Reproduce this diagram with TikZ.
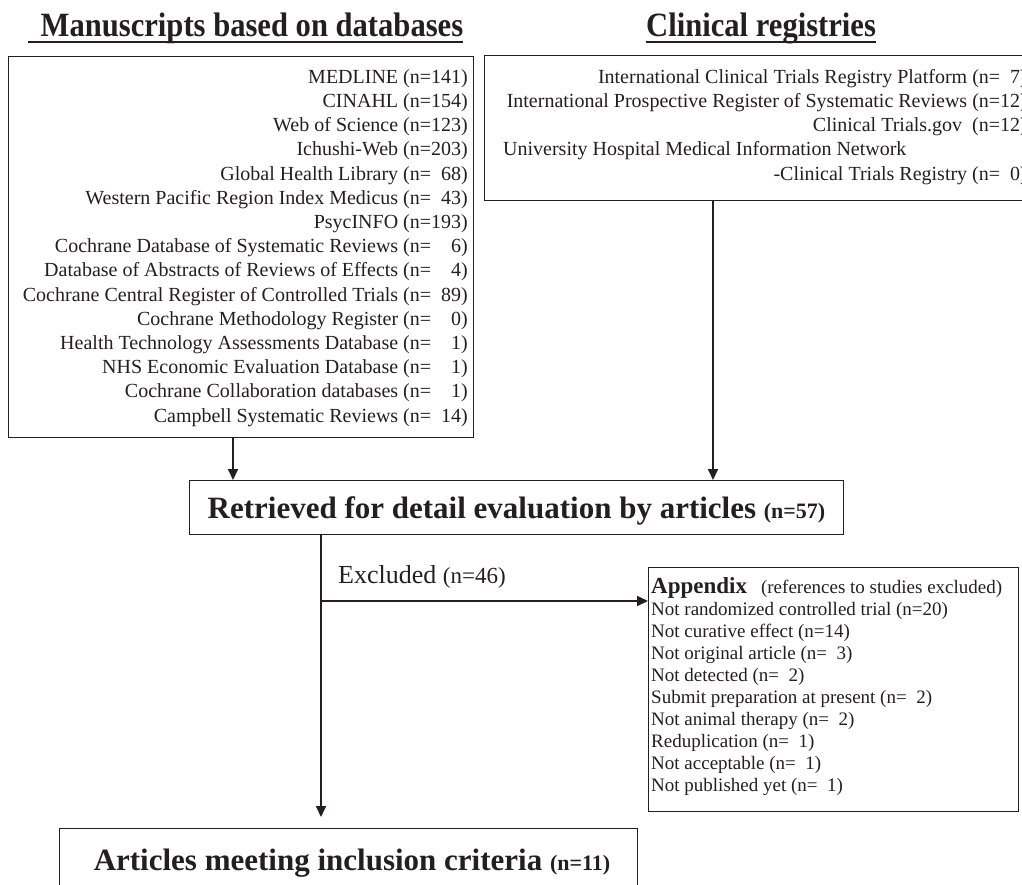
\documentclass[tikz,border=0pt]{standalone}
\usepackage{fontspec}
\setmainfont{Liberation Serif}
\usetikzlibrary{arrows.meta}
\definecolor{ink}{RGB}{35,31,32}
\begin{document}
\begin{tikzpicture}[x=1pt,y=-1pt,
  every node/.style={text=ink, inner sep=0pt},
  box/.style={draw=ink, line width=1.4pt, anchor=north west},
  arr/.style={draw=ink, line width=1.8pt, -{Triangle[length=11pt,width=10pt]}},
  head/.style={font=\fontsize{34pt}{34pt}\selectfont\bfseries},
  lst/.style={font=\fontsize{20pt}{24pt}\selectfont},
  apx/.style={font=\fontsize{19pt}{22pt}\selectfont, anchor=base west},
  big/.style={font=\fontsize{31pt}{31pt}\selectfont\bfseries, anchor=base},
  uline/.style={draw=ink, line width=2pt}]
\useasboundingbox (0,0) rectangle (1022,884);
\clip (0,0) rectangle (1022,884);

% headers
\node[head, anchor=base west] (h1) at (40.5,36) {\scalebox{0.9}[1]{Manuscripts based on databases}};
\node[head, anchor=base west] (h2) at (646,36) {\scalebox{0.9}[1]{Clinical registries}};
\draw[uline] ([xshift=-12.5pt,yshift=-5.5pt]h1.base west) -- ([yshift=-5.5pt]h1.base east);
\draw[uline] ([yshift=-5.5pt]h2.base west) -- ([yshift=-5.5pt]h2.base east);

% boxes
\node[box, minimum width=465pt, minimum height=381pt] (db) at (8,56) {};
\node[box, minimum width=550pt, minimum height=145pt] (reg) at (484,55) {};
\node[box, minimum width=654pt, minimum height=54pt] (ret) at (189,480) {};
\node[box, minimum width=370pt, minimum height=244pt] (app) at (648,567) {};
\node[box, minimum width=578pt, minimum height=80pt] (inc) at (59,828) {};

% database list
\foreach \t [count=\i from 0] in {
  {MEDLINE (n=141)},
  {CINAHL (n=154)},
  {Web of Science (n=123)},
  {Ichushi-Web (n=203)},
  {Global Health Library (n=\hphantom{0}68)},
  {Western Pacific Region Index Medicus (n=\hphantom{0}43)},
  {PsycINFO (n=193)},
  {Cochrane Database of Systematic Reviews (n=\hphantom{00}6)},
  {Database of Abstracts of Reviews of Effects (n=\hphantom{00}4)},
  {Cochrane Central Register of Controlled Trials (n=\hphantom{0}89)},
  {Cochrane Methodology Register (n=\hphantom{00}0)},
  {Health Technology Assessments Database (n=\hphantom{00}1)},
  {NHS Economic Evaluation Database (n=\hphantom{00}1)},
  {Cochrane Collaboration databases (n=\hphantom{00}1)},
  {Campbell Systematic Reviews (n=\hphantom{0}14)}}
  \node[lst, anchor=base east] (d\i) at (468, 83.3+24.2*\i) {\t};

% registry list
\node[lst, anchor=base east] (r0) at (1027,83.3) {International Clinical Trials Registry Platform (n=\hphantom{0}7)};
\node[lst, anchor=base east] (r1) at (1027,107.5) {International Prospective Register of Systematic Reviews (n=12)};
\node[lst, anchor=base east] (r2) at (1027,131.7) {Clinical Trials.gov\ \ (n=12)};
\node[lst, anchor=base west] (r3) at (503,155.9) {University Hospital Medical Information Network};
\node[lst, anchor=base east] (r4) at (1027,180.1) {-Clinical Trials Registry (n=\hphantom{0}0)};

% retrieved
\node[big] (rt) at (516.5,518) {Retrieved for detail evaluation by articles {\fontsize{22pt}{22pt}\selectfont(n=57)}};

% excluded label
\node[anchor=base west, font=\fontsize{26pt}{26pt}\selectfont] (ex) at (338,583) {Excluded {\fontsize{23pt}{23pt}\selectfont(n=46)}};

% appendix
\node[apx] (ap0) at (651,593) {{\fontsize{23pt}{23pt}\selectfont\bfseries Appendix}\hspace{14pt}(references to studies excluded)};
\foreach \t [count=\i from 1] in {
  {Not randomized controlled trial (n=20)},
  {Not curative effect (n=14)},
  {Not original article (n=\hphantom{0}3)},
  {Not detected (n=\hphantom{0}2)},
  {Submit preparation at present (n=\hphantom{0}2)},
  {Not animal therapy (n=\hphantom{0}2)},
  {Reduplication (n=\hphantom{0}1)},
  {Not acceptable (n=\hphantom{0}1)},
  {Not published yet (n=\hphantom{0}1)}}
  \node[apx] (ap\i) at (651, 593+22.1*\i) {\t};

% included
\node[big] (it) at (352,870) {Articles meeting inclusion criteria {\fontsize{22pt}{22pt}\selectfont(n=11)}};

% connectors
\coordinate (c1) at (233,0);
\coordinate (c2) at (713,0);
\coordinate (c3) at (321,0);
\coordinate (c4) at (321,601);
\draw[arr] (c1 |- db.south) -- (c1 |- ret.north);
\draw[arr] (c2 |- reg.south) -- (c2 |- ret.north);
\draw[arr, shorten >=11pt] (c3 |- ret.south) -- (c3 |- inc.north);
\draw[arr] (c4) -- (c4 -| app.west);
\end{tikzpicture}
\end{document}
